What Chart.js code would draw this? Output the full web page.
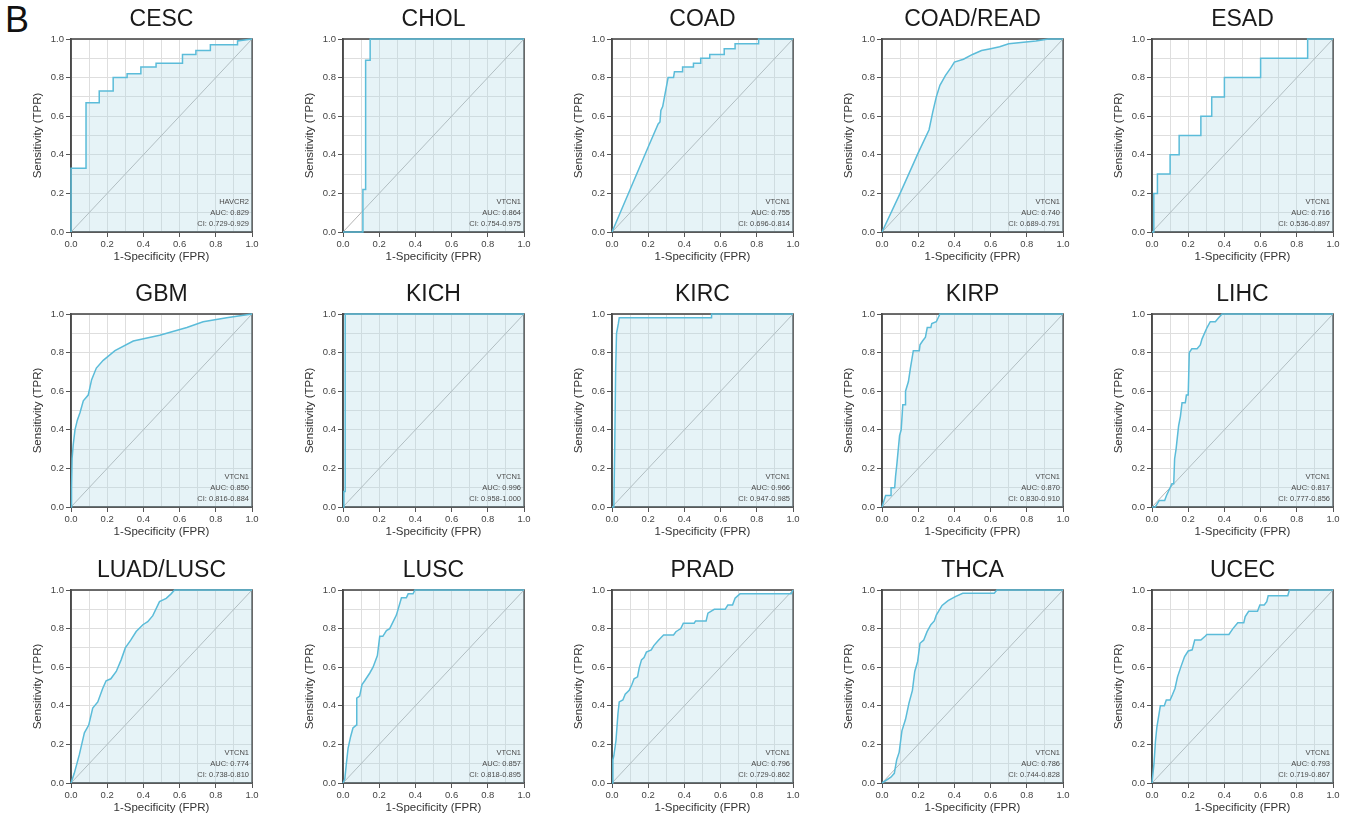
<!DOCTYPE html>
<html>
<head>
<meta charset="utf-8">
<script src="https://cdn.jsdelivr.net/npm/chart.js@4.4.1/dist/chart.umd.min.js"></script>
<style>
  html, body { margin: 0; padding: 0; background: #fff; }
  #wrap { position: relative; width: 1356px; height: 819px; overflow: hidden; background: #fff; }
  #wrap canvas { position: absolute; }
  #panelLetter { position: absolute; left: 5px; top: -1px; font: 36px 'Liberation Sans', Arial, sans-serif; color: #111; }
</style>
</head>
<body>
<div id="wrap"><div id="panelLetter">B</div></div>
<script>
// panel order: row by row
const panelTitles = ['CESC', 'CHOL', 'COAD', 'COAD/READ', 'ESAD',
  'GBM', 'KICH', 'KIRC', 'KIRP', 'LIHC',
  'LUAD/LUSC', 'LUSC', 'PRAD', 'THCA', 'UCEC'];
const genes = ['HAVCR2', 'VTCN1', 'VTCN1', 'VTCN1', 'VTCN1',
  'VTCN1', 'VTCN1', 'VTCN1', 'VTCN1', 'VTCN1',
  'VTCN1', 'VTCN1', 'VTCN1', 'VTCN1', 'VTCN1'];
const aucs = ['0.829', '0.864', '0.755', '0.740', '0.716',
  '0.850', '0.996', '0.966', '0.870', '0.817',
  '0.774', '0.857', '0.796', '0.786', '0.793'];
const cis = ['0.729-0.929', '0.754-0.975', '0.696-0.814', '0.689-0.791', '0.536-0.897',
  '0.816-0.884', '0.958-1.000', '0.947-0.985', '0.830-0.910', '0.777-0.856',
  '0.738-0.810', '0.818-0.895', '0.729-0.862', '0.744-0.828', '0.719-0.867'];
const xTitle = '1-Specificity (FPR)';
const yTitle = 'Sensitivity (TPR)';

const cescFpr = [0, 0, 0.083, 0.083, 0.156, 0.156, 0.233, 0.233, 0.31, 0.31, 0.386, 0.386, 0.47, 0.47, 0.616, 0.616, 0.69, 0.69, 0.77, 0.77, 0.92, 0.92, 1];
const cescTpr = [0, 0.33, 0.33, 0.67, 0.67, 0.73, 0.73, 0.80, 0.80, 0.82, 0.82, 0.855, 0.855, 0.875, 0.875, 0.92, 0.92, 0.94, 0.94, 0.97, 0.97, 0.99, 1];
const cholFpr = [0, 0.11, 0.11, 0.125, 0.125, 0.15, 0.15, 1];
const cholTpr = [0, 0, 0.22, 0.22, 0.89, 0.89, 1, 1];
const coadFpr = [0, 0.10, 0.20, 0.255, 0.265, 0.27, 0.28, 0.29, 0.30, 0.31, 0.34, 0.345, 0.39, 0.39, 0.45, 0.45, 0.49, 0.49, 0.54, 0.54, 0.62, 0.62, 0.68, 0.68, 0.81, 0.81, 1];
const coadTpr = [0, 0.22, 0.44, 0.56, 0.57, 0.63, 0.65, 0.70, 0.75, 0.80, 0.80, 0.83, 0.83, 0.855, 0.855, 0.875, 0.875, 0.90, 0.90, 0.92, 0.92, 0.95, 0.95, 0.975, 0.975, 1, 1];
const coadReadFpr = [0, 0.1, 0.2, 0.26, 0.28, 0.30, 0.32, 0.35, 0.38, 0.40, 0.45, 0.50, 0.55, 0.60, 0.65, 0.70, 0.85, 0.92, 1];
const coadReadTpr = [0, 0.2, 0.41, 0.53, 0.62, 0.70, 0.76, 0.81, 0.85, 0.88, 0.895, 0.92, 0.94, 0.95, 0.96, 0.975, 0.99, 1, 1];
const esadFpr = [0, 0.01, 0.01, 0.03, 0.03, 0.10, 0.10, 0.15, 0.15, 0.27, 0.27, 0.33, 0.33, 0.40, 0.40, 0.60, 0.60, 0.86, 0.86, 1];
const esadTpr = [0, 0, 0.2, 0.2, 0.3, 0.3, 0.4, 0.4, 0.5, 0.5, 0.6, 0.6, 0.7, 0.7, 0.8, 0.8, 0.9, 0.9, 1, 1];
const gbmFpr = [0, 0.003, 0.006, 0.012, 0.022, 0.035, 0.05, 0.068, 0.095, 0.114, 0.14, 0.178, 0.243, 0.344, 0.49, 0.64, 0.73, 0.86, 1];
const gbmTpr = [0, 0.10, 0.25, 0.32, 0.40, 0.45, 0.49, 0.55, 0.58, 0.66, 0.72, 0.76, 0.81, 0.86, 0.89, 0.93, 0.96, 0.98, 1];
const kichFpr = [0, 0.005, 0.005, 0.012, 0.012, 1];
const kichTpr = [0, 0, 0.08, 0.08, 1, 1];
const kircFpr = [0, 0.01, 0.015, 0.02, 0.025, 0.035, 0.04, 0.55, 0.55, 1];
const kircTpr = [0, 0, 0.3, 0.7, 0.9, 0.95, 0.98, 0.98, 1, 1];
const kirpFpr = [0, 0.01, 0.02, 0.033, 0.05, 0.05, 0.07, 0.075, 0.082, 0.097, 0.106, 0.115, 0.128, 0.13, 0.146, 0.157, 0.166, 0.173, 0.206, 0.21, 0.224, 0.24, 0.25, 0.27, 0.275, 0.30, 0.32, 1];
const kirpTpr = [0, 0.03, 0.06, 0.06, 0.06, 0.10, 0.10, 0.16, 0.22, 0.37, 0.40, 0.53, 0.53, 0.60, 0.65, 0.72, 0.77, 0.81, 0.81, 0.84, 0.86, 0.88, 0.93, 0.93, 0.95, 0.96, 1, 1];
const lihcFpr = [0, 0.018, 0.04, 0.07, 0.08, 0.10, 0.11, 0.12, 0.125, 0.133, 0.147, 0.157, 0.166, 0.184, 0.19, 0.20, 0.206, 0.22, 0.249, 0.267, 0.276, 0.304, 0.322, 0.35, 0.368, 0.387, 1];
const lihcTpr = [0, 0, 0.034, 0.034, 0.06, 0.10, 0.12, 0.12, 0.25, 0.30, 0.42, 0.47, 0.54, 0.54, 0.58, 0.58, 0.80, 0.82, 0.82, 0.84, 0.87, 0.93, 0.96, 0.96, 0.98, 1, 1];
const luadLuscFpr = [0, 0.018, 0.046, 0.074, 0.098, 0.12, 0.148, 0.175, 0.194, 0.22, 0.25, 0.277, 0.30, 0.33, 0.36, 0.397, 0.424, 0.452, 0.489, 0.526, 0.553, 0.572, 1];
const luadLuscTpr = [0, 0.05, 0.147, 0.26, 0.30, 0.388, 0.42, 0.49, 0.53, 0.54, 0.578, 0.638, 0.70, 0.74, 0.785, 0.82, 0.836, 0.867, 0.94, 0.957, 0.98, 1, 1];
const luscFpr = [0, 0.01, 0.018, 0.028, 0.042, 0.055, 0.074, 0.076, 0.092, 0.105, 0.12, 0.148, 0.166, 0.19, 0.203, 0.22, 0.24, 0.258, 0.277, 0.295, 0.323, 0.35, 0.36, 0.387, 0.397, 1];
const luscTpr = [0, 0.02, 0.095, 0.18, 0.24, 0.285, 0.30, 0.44, 0.45, 0.51, 0.53, 0.57, 0.60, 0.66, 0.76, 0.76, 0.79, 0.80, 0.836, 0.87, 0.96, 0.96, 0.98, 0.98, 1, 1];
const pradFpr = [0, 0.005, 0.01, 0.022, 0.033, 0.04, 0.06, 0.073, 0.095, 0.11, 0.122, 0.141, 0.15, 0.163, 0.177, 0.19, 0.217, 0.231, 0.258, 0.285, 0.34, 0.353, 0.38, 0.394, 0.454, 0.462, 0.52, 0.53, 0.565, 0.625, 0.64, 0.666, 0.68, 0.707, 0.99, 1];
const pradTpr = [0, 0.12, 0.14, 0.22, 0.36, 0.42, 0.43, 0.46, 0.48, 0.51, 0.54, 0.55, 0.595, 0.638, 0.65, 0.678, 0.69, 0.712, 0.741, 0.767, 0.767, 0.784, 0.80, 0.828, 0.828, 0.84, 0.84, 0.88, 0.90, 0.90, 0.922, 0.922, 0.957, 0.98, 0.98, 1];
const thcaFpr = [0, 0.049, 0.068, 0.081, 0.095, 0.11, 0.13, 0.149, 0.168, 0.181, 0.197, 0.21, 0.23, 0.249, 0.27, 0.289, 0.30, 0.332, 0.365, 0.405, 0.446, 0.62, 0.635, 1];
const thcaTpr = [0, 0.03, 0.05, 0.12, 0.16, 0.27, 0.33, 0.414, 0.48, 0.578, 0.63, 0.724, 0.74, 0.784, 0.82, 0.84, 0.87, 0.92, 0.945, 0.966, 0.983, 0.983, 1, 1];
const ucecFpr = [0, 0.011, 0.019, 0.027, 0.038, 0.046, 0.068, 0.079, 0.10, 0.114, 0.127, 0.141, 0.16, 0.18, 0.20, 0.222, 0.236, 0.27, 0.295, 0.303, 0.425, 0.447, 0.474, 0.507, 0.515, 0.534, 0.583, 0.596, 0.62, 0.634, 0.642, 0.75, 0.759, 1];
const ucecTpr = [0, 0.10, 0.215, 0.29, 0.353, 0.40, 0.40, 0.43, 0.43, 0.46, 0.49, 0.55, 0.603, 0.655, 0.684, 0.69, 0.741, 0.741, 0.762, 0.77, 0.77, 0.80, 0.83, 0.83, 0.862, 0.89, 0.89, 0.922, 0.922, 0.94, 0.97, 0.97, 1, 1];

const curves = [
  [cescFpr, cescTpr], [cholFpr, cholTpr], [coadFpr, coadTpr], [coadReadFpr, coadReadTpr], [esadFpr, esadTpr],
  [gbmFpr, gbmTpr], [kichFpr, kichTpr], [kircFpr, kircTpr], [kirpFpr, kirpTpr], [lihcFpr, lihcTpr],
  [luadLuscFpr, luadLuscTpr], [luscFpr, luscTpr], [pradFpr, pradTpr], [thcaFpr, thcaTpr], [ucecFpr, ucecTpr]
];

// layout of the grid (canvas origin for each column / row)
const colLeft = [0, 272, 541, 811, 1081];
const rowTop = [0, 275, 551];
const CW = 262, CH = 265;

Chart.defaults.font.family = "'Liberation Sans', Arial, sans-serif";

const panelDeco = {
  id: 'panelDeco',
  beforeDatasetsDraw(chart) {
    // frame goes under the curve so a curve running along y = 1 stays visible
    const { ctx, chartArea: a } = chart;
    ctx.save();
    ctx.strokeStyle = '#4a4a4a';
    ctx.lineWidth = 1.6;
    ctx.strokeRect(a.left, a.top, a.right - a.left, a.bottom - a.top);
    ctx.restore();
  },
  afterDraw(chart, args, opts) {
    const { ctx, chartArea: a } = chart;
    ctx.save();
    ctx.fillStyle = '#1a1a1a';
    ctx.font = "23px 'Liberation Sans', Arial, sans-serif";
    ctx.textAlign = 'center';
    ctx.textBaseline = 'middle';
    ctx.fillText(opts.title, (a.left + a.right) / 2, a.top - 19);
    ctx.fillStyle = '#4a4a4a';
    ctx.font = "7.5px 'Liberation Sans', Arial, sans-serif";
    ctx.textAlign = 'right';
    const rx = a.right - 3;
    ctx.fillText(opts.gene, rx, a.bottom - 30);
    ctx.fillText('AUC: ' + opts.auc, rx, a.bottom - 19);
    ctx.fillText('CI: ' + opts.ci, rx, a.bottom - 8);
    ctx.restore();
  }
};

function axisOpts(titleText, fit) {
  return {
    type: 'linear', min: 0, max: 1,
    ticks: {
      stepSize: 0.1, autoSkip: false, maxRotation: 0, padding: 2,
      color: '#444', font: { size: 9.5 },
      callback: (v, i) => (i % 2 === 0 ? Number(v).toFixed(1) : '')
    },
    grid: {
      color: '#dedede', lineWidth: 1, tickLength: 5,
      tickColor: c => (c.index % 2 === 0 ? '#555' : 'rgba(0,0,0,0)')
    },
    border: { color: '#4a4a4a', width: 1.6 },
    title: { display: true, text: titleText, color: '#333', font: { size: 11.5 }, padding: 0 },
    afterFit: fit
  };
}

const wrap = document.getElementById('wrap');
panelTitles.forEach((t, i) => {
  const cv = document.createElement('canvas');
  cv.width = CW; cv.height = CH;
  cv.style.left = colLeft[i % 5] + 'px';
  cv.style.top = rowTop[Math.floor(i / 5)] + 'px';
  cv.style.width = CW + 'px'; cv.style.height = CH + 'px';
  wrap.appendChild(cv);

  const [fpr, tpr] = curves[i];
  const pts = fpr.map((x, k) => ({ x, y: tpr[k] }));

  new Chart(cv.getContext('2d'), {
    type: 'line',
    data: {
      datasets: [
        { data: pts, borderColor: '#5bbcd9', borderWidth: 1.5, pointRadius: 0, tension: 0,
          fill: 'origin', backgroundColor: 'rgba(173,216,230,0.3)', clip: 3 },
        { data: [{ x: 0, y: 0 }, { x: 1, y: 1 }], borderColor: '#b3b3b3', borderWidth: 1,
          pointRadius: 0, fill: false }
      ]
    },
    options: {
      responsive: false, animation: false, devicePixelRatio: 1,
      layout: { padding: { left: 31, right: 10, top: 39, bottom: 1 } },
      plugins: {
        legend: { display: false }, tooltip: { enabled: false },
        panelDeco: { title: t, gene: genes[i], auc: aucs[i], ci: cis[i] }
      },
      scales: {
        x: axisOpts(xTitle, s => { s.height = 32; }),
        y: axisOpts(yTitle, s => { s.width = 40; })
      }
    },
    plugins: [panelDeco]
  });
});
</script>
</body>
</html>
